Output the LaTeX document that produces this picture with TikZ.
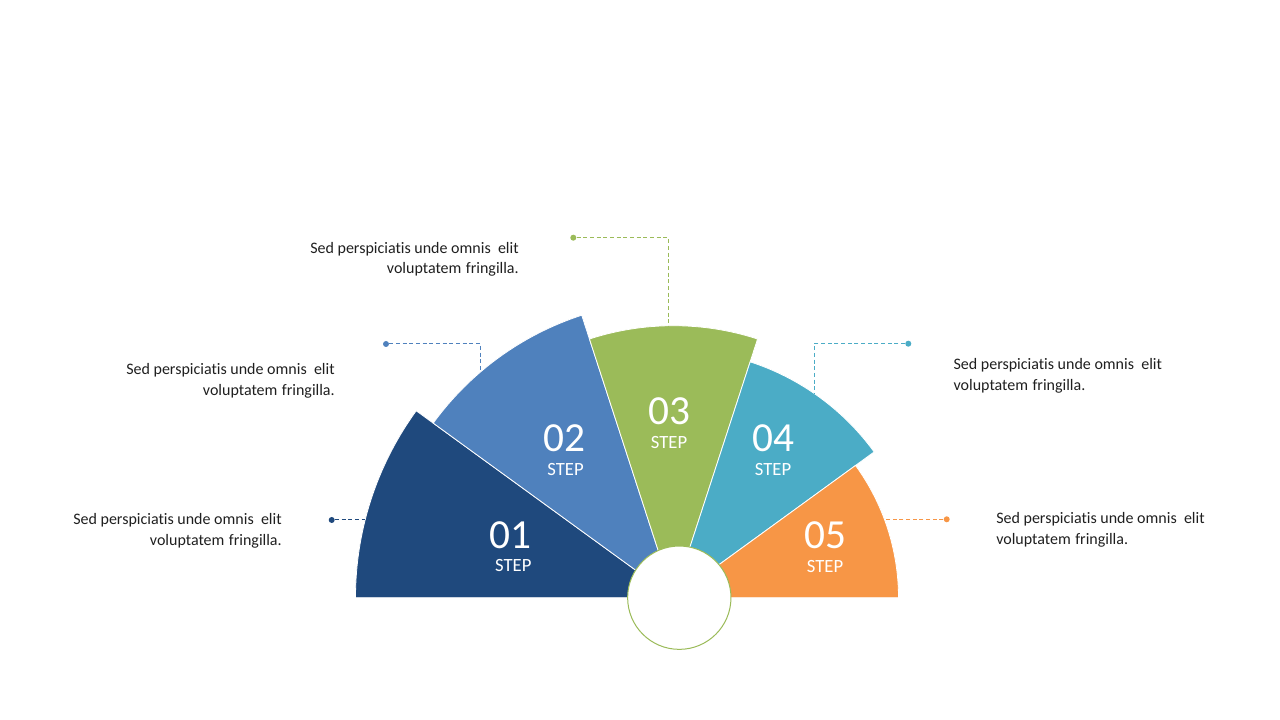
\documentclass[tikz,border=0pt]{standalone}
\usepackage{fontspec}
\setmainfont{Carlito}[Ligatures=NoCommon]
\usetikzlibrary{positioning}

\definecolor{stepA}{HTML}{1F497D}
\definecolor{stepB}{HTML}{4F81BD}
\definecolor{stepC}{HTML}{9BBB59}
\definecolor{stepD}{HTML}{4BACC6}
\definecolor{stepE}{HTML}{F79646}

\begin{document}
\begin{tikzpicture}[x=0.75pt, y=0.75pt,
    wedge/.style={draw=white, line width=0.6pt},
    num/.style={text=white, inner sep=0pt, font=\fontsize{31}{31}\selectfont},
    steplabel/.style={text=white, inner sep=0pt, font=\fontsize{14}{14}\selectfont},
    desc/.style={inner sep=0pt, text=black!88, font=\fontsize{12}{15.5}\selectfont},
    leader/.style={line width=0.75pt, dash pattern=on 3pt off 2pt},
    dot/.style={circle, fill, inner sep=0pt, minimum size=4.5pt}]

    \useasboundingbox (0,0) rectangle (1280,720);
    \coordinate (o) at (673.5,122.3);

    % 扇形
    \path[wedge, fill=stepA] (o) -- ++(180:318) arc[start angle=180, end angle=144, radius=318] -- cycle;
    \path[wedge, fill=stepB] (o) -- ++(144:297) arc[start angle=144, end angle=108, radius=297] -- cycle;
    \path[wedge, fill=stepC] (o) -- ++(108:272) arc[start angle=108, end angle=72, radius=272] -- cycle;
    \path[wedge, fill=stepD] (o) -- ++(72:248) arc[start angle=72, end angle=36, radius=248] -- cycle;
    \path[wedge, fill=stepE] (o) -- ++(36:225) arc[start angle=36, end angle=0, radius=225] -- cycle;

    % 中心圆
    \node[circle, draw=stepC, line width=0.75pt, fill=white, minimum size=77.5pt, inner sep=0pt] (hub) at (679.3,122.3) {};

    % 编号
    \node[num] (n1) at (510.5,185) {01};
    \node[steplabel] (s1) at (513.3,154.5) {STEP};
    \node[num] (n2) at (564,281.7) {02};
    \node[steplabel] (s2) at (565.5,250) {STEP};
    \node[num] (n3) at (669,309) {03};
    \node[steplabel] (s3) at (669,277.5) {STEP};
    \node[num] (n4) at (773,282) {04};
    \node[steplabel] (s4) at (773,250.5) {STEP};
    \node[num] (n5) at (825,185) {05};
    \node[steplabel] (s5) at (825,153.5) {STEP};

    % 引线
    \node[dot, stepA] (d1) at (331.7,200) {};
    \node[dot, stepB] (d2) at (386,376) {};
    \node[dot, stepC] (d3) at (573.3,482.3) {};
    \node[dot, stepD] (d4) at (908.3,376.3) {};
    \node[dot, stepE] (d5) at (946.7,200.7) {};
    \coordinate (e1) at (365,200);
    \coordinate (e2) at (480.7,348.2);
    \coordinate (e3) at (668.3,394);
    \coordinate (e4) at (814.3,326.5);
    \coordinate (e5) at (884.4,200.7);
    \draw[leader, stepA] (d1) -- (e1);
    \draw[leader, stepB] (d2) -- (d2 -| e2) -- (e2);
    \draw[leader, stepC] (d3) -- (d3 -| e3) -- (e3);
    \draw[leader, stepD] (d4) -- (d4 -| e4) -- (e4);
    \draw[leader, stepE] (d5) -- (e5);

    % 说明文字
    \node[desc, align=right, anchor=east] (t1) at (282,189) {Sed perspiciatis unde omnis\ \ elit\\voluptatem\hspace{0.28em}fringilla.};
    \node[desc, align=right, anchor=east] (t2) at (335,339.4) {Sed perspiciatis unde omnis\ \ elit\\voluptatem\hspace{0.28em}fringilla.};
    \node[desc, align=right, anchor=east] (t3) at (519,460.7) {Sed perspiciatis unde omnis\ \ elit\\voluptatem\hspace{0.28em}fringilla.};
    \node[desc, align=left, anchor=west] (t4) at (953.3,344) {Sed perspiciatis unde omnis\ \ elit\\voluptatem\hspace{0.28em}fringilla.};
    \node[desc, align=left, anchor=west] (t5) at (996,190.4) {Sed perspiciatis unde omnis\ \ elit\\voluptatem\hspace{0.28em}fringilla.};

\end{tikzpicture}
\end{document}
